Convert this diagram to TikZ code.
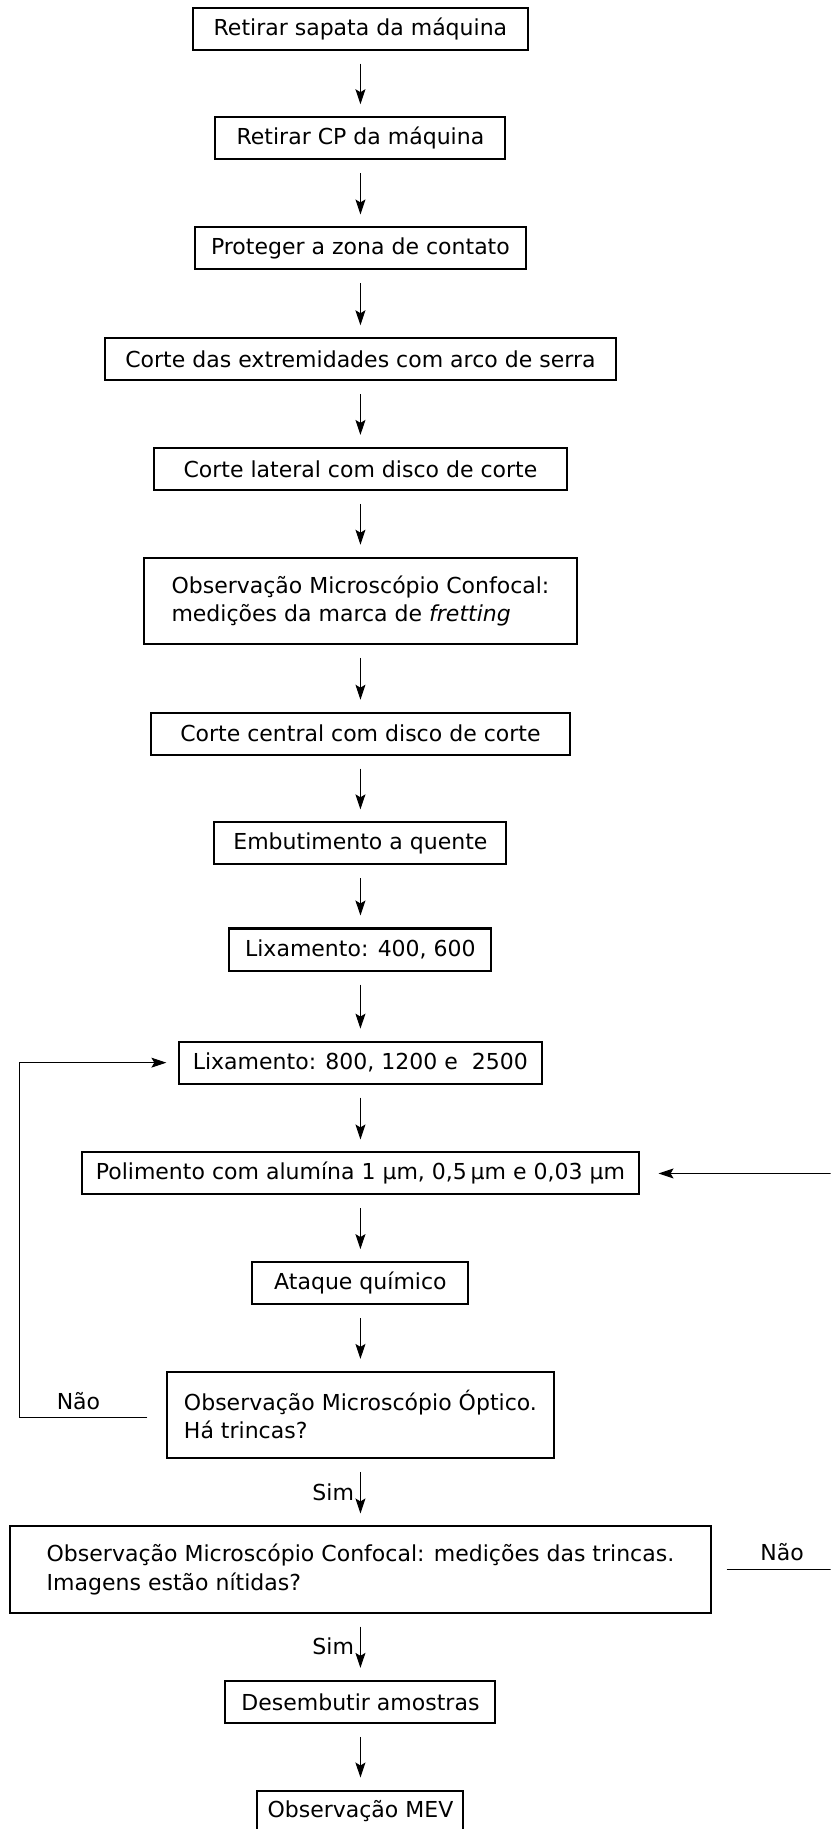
\documentclass[tikz,border=0pt]{standalone}
\usepackage{fontspec}
\setmainfont{DejaVu Sans}
\usepackage{tikz}
\usetikzlibrary{arrows.meta}

\begin{document}
\begin{tikzpicture}[
  x=0.583pt, y=-0.583pt,
  >={Stealth[length=7.5pt,width=5pt,inset=1.5pt]},
  every node/.style={font=\fontsize{11}{14}\selectfont},
  passo/.style={rectangle, draw, line width=1pt,
    minimum height=21pt, inner xsep=7pt},
  duplo/.style={passo, minimum height=43pt, align=left},
  seta/.style={->, line width=0.5pt, shorten <=6.5pt, shorten >=6pt},
  volta/.style={->, line width=0.5pt},
  rotulo/.style={inner sep=4pt},
]
\useasboundingbox (0,0) rectangle (712,1568);
\clip (0,0) rectangle (712,1568);

% Preparacao
\node[passo, minimum width=167pt] (sapata) at (309,24.5) {Retirar sapata da máquina};
\node[passo, minimum width=145pt] (cp) at (309,118.5) {Retirar CP da máquina};
\node[passo, minimum width=165pt] (proteger) at (309,213) {Proteger a zona de contato};
\node[passo, minimum width=255pt] (extrem) at (309,308) {Corte das extremidades com arco de serra};
\node[passo, minimum width=206pt] (lateral) at (309,402) {Corte lateral com disco de corte};
\node[duplo, minimum width=216pt] (confocal1) at (309,515)
  {Observação Microscópio Confocal:\\medições da marca de \textit{fretting}};
\node[passo, minimum width=209pt] (central) at (309,629) {Corte central com disco de corte};
\node[passo, minimum width=146pt] (embut) at (309,723) {Embutimento a quente};

% Lixamento e polimento
\node[passo, minimum width=131pt] (lix1) at (309,814) {Lixamento: 400, 600};
\node[passo, minimum width=181pt, inner xsep=5.5pt] (lix2) at (309,911) {Lixamento: 800, 1200 e\ \ 2500};
\node[passo, minimum width=278pt, inner xsep=6pt] (polim) at (309,1006) {Polimento com alumína 1 µm, 0,5\,µm e 0,03 µm};
\node[passo, minimum width=108pt] (ataque) at (309,1100) {Ataque químico};

% Observacoes
\node[duplo, minimum width=193pt] (optico) at (309,1213)
  {Observação Microscópio Óptico.\\Há trincas?};
\node[duplo, minimum width=350pt] (confocal2) at (309,1345.5)
  {Observação Microscópio Confocal: medições das trincas.\\Imagens estão nítidas?};
\node[passo, minimum width=135pt] (desemb) at (309,1459) {Desembutir amostras};
\node[passo, minimum width=103pt, inner xsep=4.5pt] (mev) at (309,1553) {Observação MEV};

% Fluxo principal
\draw[seta] (sapata) -- (cp);
\draw[seta] (cp) -- (proteger);
\draw[seta] (proteger) -- (extrem);
\draw[seta] (extrem) -- (lateral);
\draw[seta] (lateral) -- (confocal1);
\draw[seta] (confocal1) -- (central);
\draw[seta] (central) -- (embut);
\draw[seta] (embut) -- (lix1);
\draw[seta] (lix1) -- (lix2);
\draw[seta] (lix2) -- (polim);
\draw[seta] (polim) -- (ataque);
\draw[seta] (ataque) -- (optico);
\draw[seta] (optico) -- node[left, inner sep=3pt] {Sim} (confocal2);
\draw[seta] (confocal2) -- node[left, inner sep=3pt] {Sim} (desemb);
\draw[seta] (desemb) -- (mev);

% Retornos
\coordinate (esq) at (17,911);
\coordinate (dir) at (745,1347);
\draw[volta] ([xshift=-9.5pt,yshift=-1.5pt]optico.west) -| node[above, rotulo, pos=0.27] {Não}
  (esq) -- ([xshift=-6pt]lix2.west);
\draw[volta] ([xshift=7.5pt]confocal2.east) -| node[above, rotulo, pos=0.195] {Não}
  (dir |- polim.east) -- ([xshift=9.5pt]polim.east);

\end{tikzpicture}
\end{document}
